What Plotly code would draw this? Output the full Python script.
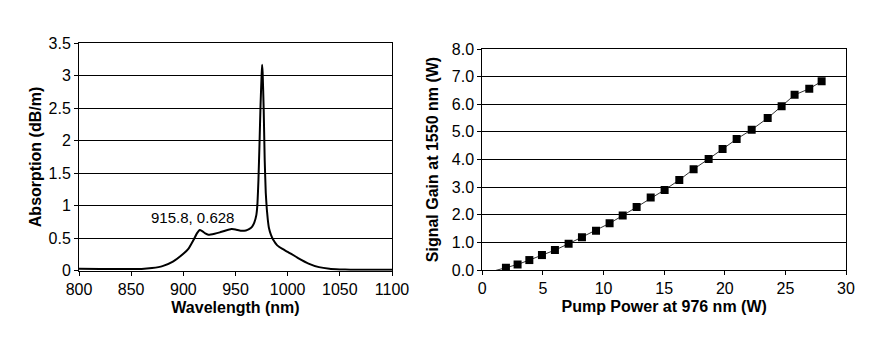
import plotly.graph_objects as go

# Left chart: absorption spectrum
wavelength = [800, 820, 840, 850, 860, 870, 880, 890, 900, 905, 910, 913, 915.8, 918, 921, 924,
              930, 935, 940, 946, 950, 955, 960, 963, 966, 968, 970, 971, 972, 973, 974, 975,
              975.5, 976, 977, 978, 979, 980, 981, 982, 984, 986, 990, 995, 1000, 1010, 1020,
              1030, 1040, 1050, 1060, 1080, 1100]
absorption = [0.03, 0.027, 0.025, 0.025, 0.025, 0.04, 0.07, 0.14, 0.26, 0.34, 0.48, 0.575, 0.628, 0.61, 0.575, 0.555,
              0.57, 0.59, 0.615, 0.64, 0.635, 0.615, 0.62, 0.64, 0.68, 0.74, 0.86, 1.02, 1.4, 1.95, 2.55, 3.0,
              3.17, 3.05, 2.5, 1.7, 1.2, 0.95, 0.78, 0.66, 0.55, 0.48, 0.39, 0.335, 0.29, 0.195, 0.11,
              0.055, 0.03, 0.02, 0.015, 0.015, 0.015]
peak_label = "915.8, 0.628"
left_xticks = [800, 850, 900, 950, 1000, 1050, 1100]
left_yticks = [0, 0.5, 1, 1.5, 2, 2.5, 3, 3.5]

# Right chart: signal gain vs pump power
pump_power = [1.95, 2.91, 3.88, 4.92, 5.99, 7.12, 8.22, 9.38, 10.5, 11.58, 12.73, 13.89,
              15.04, 16.25, 17.43, 18.67, 19.82, 20.98, 22.22, 23.54, 24.69, 25.76, 26.97, 27.99]
signal_gain = [0.08, 0.2, 0.36, 0.54, 0.72, 0.95, 1.19, 1.42, 1.69, 1.97, 2.28, 2.62,
               2.9, 3.26, 3.65, 4.02, 4.38, 4.74, 5.08, 5.5, 5.93, 6.34, 6.56, 6.83]
fit_start_x = [0.4]
fit_start_y = [-0.1]
right_xticks = [0, 5, 10, 15, 20, 25, 30]
right_yticks = [0, 1, 2, 3, 4, 5, 6, 7, 8]

FONT = "Liberation Sans, Arial, Helvetica, sans-serif"
W, H = 874, 337
TICK = 16
TITLE = 16

fig = go.Figure()

fig.add_trace(go.Scatter(x=wavelength, y=absorption, mode="lines",
                         line=dict(color="black", width=2, shape="spline", smoothing=0.4),
                         xaxis="x", yaxis="y", showlegend=False))

fig.add_trace(go.Scatter(x=fit_start_x + pump_power, y=fit_start_y + signal_gain, mode="lines",
                         line=dict(color="#333333", width=1),
                         xaxis="x2", yaxis="y2", showlegend=False))
fig.add_trace(go.Scatter(x=pump_power, y=signal_gain, mode="markers",
                         marker=dict(symbol="square", color="black", size=8),
                         xaxis="x2", yaxis="y2", showlegend=False))

axis_common = dict(showline=True, linecolor="black", linewidth=1, mirror=True,
                   ticks="outside", ticklen=4, tickcolor="black",
                   tickfont=dict(family=FONT, size=TICK, color="black"),
                   zeroline=False, automargin=False)

fig.update_layout(
    width=W, height=H,
    margin=dict(l=0, r=0, t=0, b=0),
    paper_bgcolor="white", plot_bgcolor="white",
    font=dict(family=FONT, color="black"),
    xaxis=dict(domain=[79 / W, 392 / W], range=[800, 1100], tickvals=left_xticks,
               showgrid=False, anchor="y",
               title=dict(text="<b>Wavelength (nm)</b>", font=dict(size=TITLE), standoff=4),
               **axis_common),
    yaxis=dict(domain=[1 - 270.7 / H, 1 - 43.3 / H], range=[0, 3.5], tickvals=left_yticks,
               ticktext=[str(v) if v != int(v) else str(int(v)) for v in left_yticks],
               showgrid=True, gridcolor="black", gridwidth=1, anchor="x",
               title=dict(text="<b>Absorption (dB/m)</b>", font=dict(size=TITLE), standoff=2),
               **axis_common),
    xaxis2=dict(domain=[482.3 / W, 846 / W], range=[0, 30], tickvals=right_xticks,
                showgrid=False, anchor="y2",
                title=dict(text="<b>Pump Power at 976 nm (W)</b>", font=dict(size=TITLE), standoff=4),
                **axis_common),
    yaxis2=dict(domain=[1 - 270 / H, 1 - 49 / H], range=[0, 8], tickvals=right_yticks,
                tickformat=".1f",
                showgrid=True, gridcolor="black", gridwidth=1, anchor="x2",
                title=dict(text="<b>Signal Gain at 1550 nm (W)</b>", font=dict(size=TITLE), standoff=9),
                **axis_common),
    annotations=[dict(x=909, y=0.826, xref="x", yref="y", text=peak_label, showarrow=False,
                      font=dict(family=FONT, size=15, color="black"))],
)

fig.write_html("out.html")
